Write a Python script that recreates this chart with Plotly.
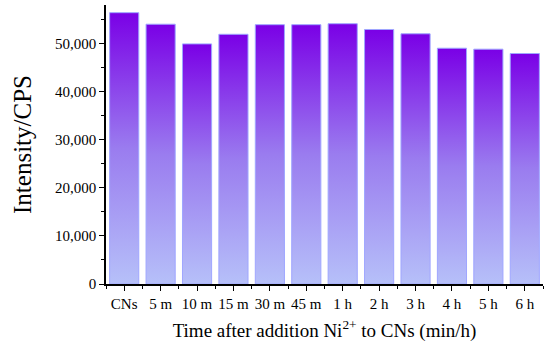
import plotly.graph_objects as go

categories = ["CNs", "5 m", "10 m", "15 m", "30 m", "45 m", "1 h", "2 h", "3 h", "4 h", "5 h", "6 h"]
intensity = [56500, 54100, 50000, 52000, 54000, 54000, 54200, 53000, 52100, 49100, 48900, 48000]
y_tickvals = [0, 10000, 20000, 30000, 40000, 50000]
y_ticktext = ["0", "10,000", "20,000", "30,000", "40,000", "50,000"]

FONT = "Liberation Serif"
half = 0.4

fig = go.Figure()
for i, v in enumerate(intensity):
    fig.add_trace(go.Scatter(
        x=[i - half, i + half, i + half, i - half, i - half],
        y=[0, 0, v, v, 0],
        mode="lines",
        fill="toself",
        line=dict(color="#9fa6ff", width=1),
        fillgradient=dict(type="vertical",
                          colorscale=[[0, "#b6c0f9"], [0.5, "#9a7cef"], [1, "#7a00e6"]]),
        hoverinfo="skip",
        showlegend=False,
    ))

fig.update_layout(
    width=550, height=351,
    margin=dict(l=106, r=7, t=5, b=67),
    plot_bgcolor="white", paper_bgcolor="white",
    font=dict(family=FONT, color="black"),
    xaxis=dict(
        range=[-0.5, len(categories) - 0.5],
        tickvals=list(range(len(categories))),
        ticktext=categories,
        showgrid=False, zeroline=False,
        showline=True, linecolor="black", linewidth=1.5,
        ticks="outside", ticklen=5, tickwidth=1, tickcolor="black",
        minor=dict(tickvals=[i + 0.5 for i in range(-1, len(categories))],
                   ticks="outside", ticklen=3, tickcolor="black"),
        tickfont=dict(size=15, family=FONT),
        title=dict(text="Time after addition Ni<sup>2+</sup> to CNs (min/h)",
                   font=dict(size=19, family=FONT), standoff=13),
    ),
    yaxis=dict(
        range=[0, 58100],
        tickvals=y_tickvals, ticktext=y_ticktext,
        showgrid=False, zeroline=False,
        showline=True, linecolor="black", linewidth=1.5,
        ticks="outside", ticklen=5, tickwidth=1, tickcolor="black",
        minor=dict(dtick=5000, ticks="outside", ticklen=3, tickcolor="black"),
        tickfont=dict(size=15, family=FONT),
        title=dict(text="Intensity/CPS", font=dict(size=25, family=FONT), standoff=16),
    ),
)

fig.write_html("out.html", config={"displayModeBar": False},
               post_script="document.body.style.margin='0';")
